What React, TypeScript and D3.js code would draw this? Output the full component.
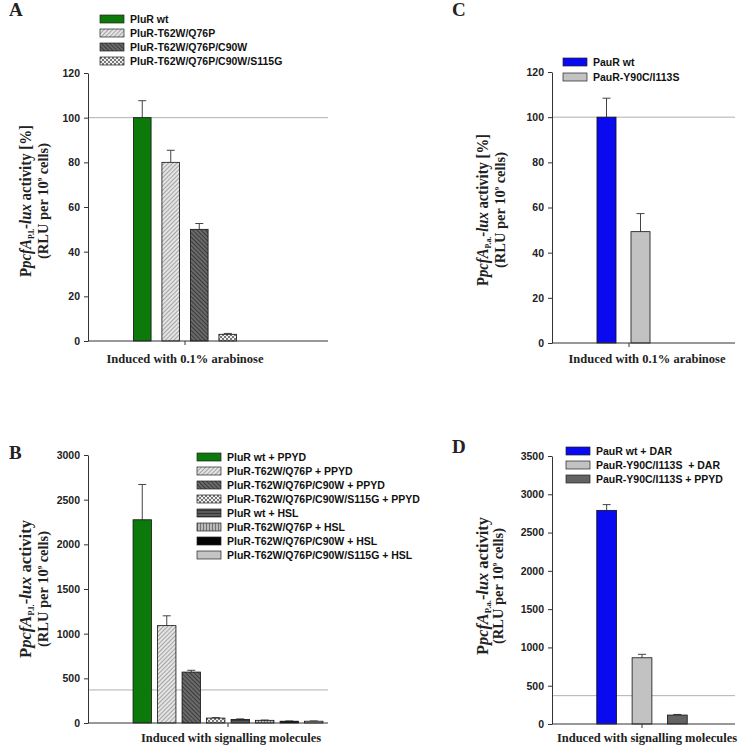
import { useEffect, useRef } from "react";
import * as d3 from "d3";

// panel A – induced with arabinose
const labelsA = ["PluR wt", "PluR-T62W/Q76P", "PluR-T62W/Q76P/C90W", "PluR-T62W/Q76P/C90W/S115G"];
const valuesA = [100, 80, 50, 3];
const errorsA = [7.6, 5.4, 2.6, 0.4];
const fillsA = ["#0b7a0b", "url(#hatchLight)", "url(#hatchDark)", "url(#checker)"];

// panel B – signalling molecules
const labelsB = [
  "PluR wt + PPYD",
  "PluR-T62W/Q76P + PPYD",
  "PluR-T62W/Q76P/C90W + PPYD",
  "PluR-T62W/Q76P/C90W/S115G + PPYD",
  "PluR wt + HSL",
  "PluR-T62W/Q76P + HSL",
  "PluR-T62W/Q76P/C90W + HSL",
  "PluR-T62W/Q76P/C90W/S115G + HSL",
];
const valuesB = [2275, 1090, 570, 55, 40, 30, 20, 20];
const errorsB = [395, 110, 20, 5, 6, 3, 3, 3];
const fillsB = [
  "#0b7a0b", "url(#hatchLight)", "url(#hatchDark)", "url(#checker)",
  "url(#hStripe)", "url(#vStripe)", "#050505", "#c4c4c4",
];

// panel C
const labelsC = ["PauR wt", "PauR-Y90C/I113S"];
const valuesC = [100, 49.3];
const errorsC = [8.4, 8];
const fillsC = ["#0a0af0", "#c2c2c2"];

// panel D
const labelsD = ["PauR wt + DAR", "PauR-Y90C/I113S  + DAR", "PauR-Y90C/I113S + PPYD"];
const valuesD = [2790, 865, 117];
const errorsD = [75, 45, 8];
const fillsD = ["#0a0af0", "#c2c2c2", "#636363"];

const ticksPct = [0, 20, 40, 60, 80, 100, 120];
const ticksB = [0, 500, 1000, 1500, 2000, 2500, 3000];
const ticksD = [0, 500, 1000, 1500, 2000, 2500, 3000, 3500];

const SANS = "'Liberation Sans', Arial, sans-serif";
const SERIF = "'Liberation Serif', 'Times New Roman', serif";

function drawPanel(root, p) {
  const g = root.append("g");
  const y = d3.scaleLinear().domain([0, p.yMax]).range([p.y0, p.y1]);
  const x = d3.scaleBand().domain(p.labels).range(p.band)
    .paddingInner(p.pad).paddingOuter(p.pad / 2);
  const data = p.labels.map((l, i) => ({ label: l, v: p.values[i], e: p.errors[i], fill: p.fills[i] }));

  // reference line
  g.append("line")
    .attr("x1", p.axis[0]).attr("x2", p.axis[1])
    .attr("y1", y(p.refLine)).attr("y2", y(p.refLine))
    .attr("stroke", "#b0b0b0").attr("stroke-width", 1);

  // error bars (upper only)
  const eb = g.selectAll("g.err").data(data).enter().append("g")
    .attr("stroke", "#444").attr("stroke-width", 1);
  eb.append("line")
    .attr("x1", d => x(d.label) + x.bandwidth() / 2)
    .attr("x2", d => x(d.label) + x.bandwidth() / 2)
    .attr("y1", d => y(d.v)).attr("y2", d => y(d.v + d.e));
  eb.append("line")
    .attr("x1", d => x(d.label) + x.bandwidth() / 2 - 4)
    .attr("x2", d => x(d.label) + x.bandwidth() / 2 + 4)
    .attr("y1", d => y(d.v + d.e)).attr("y2", d => y(d.v + d.e));

  g.selectAll("rect.bar").data(data).enter().append("rect")
    .attr("x", d => x(d.label))
    .attr("width", x.bandwidth())
    .attr("y", d => y(d.v))
    .attr("height", d => y(0) - y(d.v))
    .attr("fill", d => d.fill)
    .attr("stroke", "#111").attr("stroke-width", 0.8);

  // y axis
  const yAxis = d3.axisLeft(y).tickValues(p.ticks).tickFormat(d3.format("d"))
    .tickSize(4).tickSizeOuter(0).tickPadding(4);
  const ya = g.append("g").attr("transform", `translate(${p.axis[0]},0)`).call(yAxis);
  ya.selectAll("path,line").attr("stroke", "#333");
  ya.selectAll("text").attr("font-family", SANS).attr("font-weight", "bold")
    .attr("font-size", 10.5).attr("fill", "#222");

  // x axis
  g.append("line").attr("x1", p.axis[0]).attr("x2", p.axis[1])
    .attr("y1", y(0)).attr("y2", y(0)).attr("stroke", "#333");
  const tx = p.tickX ?? (p.band[0] + p.band[1]) / 2;
  g.append("line").attr("x1", tx).attr("x2", tx)
    .attr("y1", y(0)).attr("y2", y(0) + 4).attr("stroke", "#333");

  g.append("text").text(p.xLabel)
    .attr("x", p.xLabelX).attr("y", p.xLabelY)
    .attr("text-anchor", "middle").attr("font-family", SERIF)
    .attr("font-weight", "bold").attr("font-size", 12.5).attr("fill", "#222");

  // panel letter
  g.append("text").text(p.letter).attr("x", p.letterPos[0]).attr("y", p.letterPos[1])
    .attr("font-family", SERIF).attr("font-weight", "bold").attr("font-size", 19).attr("fill", "#222");

  // y label
  const l1 = g.append("text")
    .attr("transform", `translate(${p.yLab[0]},${p.yLab[2]}) rotate(-90)`)
    .attr("text-anchor", "middle").attr("font-family", SERIF)
    .attr("font-weight", "bold").attr("font-size", 17).attr("fill", "#222")
    .attr("textLength", p.pct ? 152 : 138).attr("lengthAdjust", "spacingAndGlyphs");
  l1.append("tspan").text("P");
  l1.append("tspan").text("pcfA").attr("font-style", "italic");
  l1.append("tspan").text(p.sub).attr("font-size", 9).attr("dy", 3);
  l1.append("tspan").text("-").attr("dy", -3);
  l1.append("tspan").text("lux").attr("font-style", "italic");
  l1.append("tspan").text(p.pct ? " activity [%]" : " activity");

  const l2 = g.append("text")
    .attr("transform", `translate(${p.yLab[1]},${p.yLab[2]}) rotate(-90)`)
    .attr("text-anchor", "middle").attr("font-family", SERIF)
    .attr("font-weight", "bold").attr("font-size", 15).attr("fill", "#222")
    .attr("textLength", 116).attr("lengthAdjust", "spacingAndGlyphs");
  l2.append("tspan").text("(RLU per 10");
  l2.append("tspan").text("9").attr("font-size", 7).attr("dy", -6);
  l2.append("tspan").text(" cells)").attr("dy", 6);

  // legend
  const lg = g.selectAll("g.leg").data(data).enter().append("g")
    .attr("transform", (d, i) => `translate(${p.legend[0]},${p.legend[1] + i * p.legend[2]})`);
  lg.append("rect").attr("x", 0).attr("y", -4).attr("width", 24).attr("height", 8)
    .attr("fill", d => d.fill).attr("stroke", "#222").attr("stroke-width", 0.7);
  lg.append("text").text(d => d.label).attr("x", 30).attr("y", 4)
    .style("white-space", "pre")
    .attr("font-family", SANS).attr("font-weight", "bold").attr("font-size", 10.5).attr("fill", "#111");
}

export default function App() {
  const ref = useRef(null);

  useEffect(() => {
    const el = ref.current;
    el.innerHTML = "";
    const svg = d3.select(el).append("svg")
      .attr("width", 740).attr("height", 745)
      .style("position", "absolute").style("left", 0).style("top", 0)
      .style("background", "#fff");

    const defs = svg.append("defs");
    const hatch = (id, bg, fg, dir) => {
      const pt = defs.append("pattern").attr("id", id).attr("patternUnits", "userSpaceOnUse")
        .attr("width", 3).attr("height", 3)
        .attr("patternTransform", `rotate(${dir})`);
      pt.append("rect").attr("width", 3).attr("height", 3).attr("fill", bg);
      pt.append("line").attr("x1", 0).attr("x2", 0).attr("y1", 0).attr("y2", 3)
        .attr("stroke", fg).attr("stroke-width", 1.4);
    };
    hatch("hatchLight", "#e4e4e4", "#888", 45);
    hatch("hatchDark", "#6a6a6a", "#262626", -45);
    hatch("hStripe", "#5a5a5a", "#262626", 90);
    hatch("vStripe", "#b8b8b8", "#555", 0);
    const ck = defs.append("pattern").attr("id", "checker").attr("patternUnits", "userSpaceOnUse")
      .attr("width", 4).attr("height", 4);
    ck.append("rect").attr("width", 4).attr("height", 4).attr("fill", "#f0f0f0");
    ck.append("rect").attr("width", 2).attr("height", 2).attr("fill", "#777");
    ck.append("rect").attr("x", 2).attr("y", 2).attr("width", 2).attr("height", 2).attr("fill", "#777");

    drawPanel(svg, {
      labels: labelsA, values: valuesA, errors: errorsA, fills: fillsA,
      yMax: 120, y0: 341, y1: 73, ticks: ticksPct, refLine: 100,
      axis: [88, 328], band: [128, 242], pad: 0.38,
      xLabel: "Induced with 0.1% arabinose", xLabelX: 185, xLabelY: 363,
      letter: "A", letterPos: [9, 16], yLab: [31, 48, 201], sub: "P.l.", pct: true,
      legend: [100, 19, 14],
    });
    drawPanel(svg, {
      labels: labelsB, values: valuesB, errors: errorsB, fills: fillsB,
      yMax: 3000, y0: 723, y1: 455, ticks: ticksB, refLine: 370,
      axis: [88, 328], band: [130, 326], pad: 0.25,
      xLabel: "Induced with signalling molecules", xLabelX: 231, xLabelY: 742,
      letter: "B", letterPos: [9, 459], yLab: [31, 48, 589], sub: "P.l.", pct: false,
      legend: [197, 457, 14],
    });
    drawPanel(svg, {
      labels: labelsC, values: valuesC, errors: errorsC, fills: fillsC,
      yMax: 120, y0: 343, y1: 72, ticks: ticksPct, refLine: 100,
      axis: [552, 735], band: [589.5, 657.5], pad: 0.44, tickX: 629,
      xLabel: "Induced with 0.1% arabinose", xLabelX: 647, xLabelY: 363,
      letter: "C", letterPos: [452, 16], yLab: [488, 505, 210], sub: "P.a.", pct: true,
      legend: [563, 62, 15],
    });
    drawPanel(svg, {
      labels: labelsD, values: valuesD, errors: errorsD, fills: fillsD,
      yMax: 3500, y0: 724, y1: 456, ticks: ticksD, refLine: 370,
      axis: [552, 735], band: [589, 695], pad: 0.44,
      xLabel: "Induced with signalling molecules", xLabelX: 647, xLabelY: 742,
      letter: "D", letterPos: [452, 453], yLab: [488, 503, 586], sub: "P.a.", pct: false,
      legend: [566, 451, 14],
    });
  }, []);

  return <div ref={ref}></div>;
}
